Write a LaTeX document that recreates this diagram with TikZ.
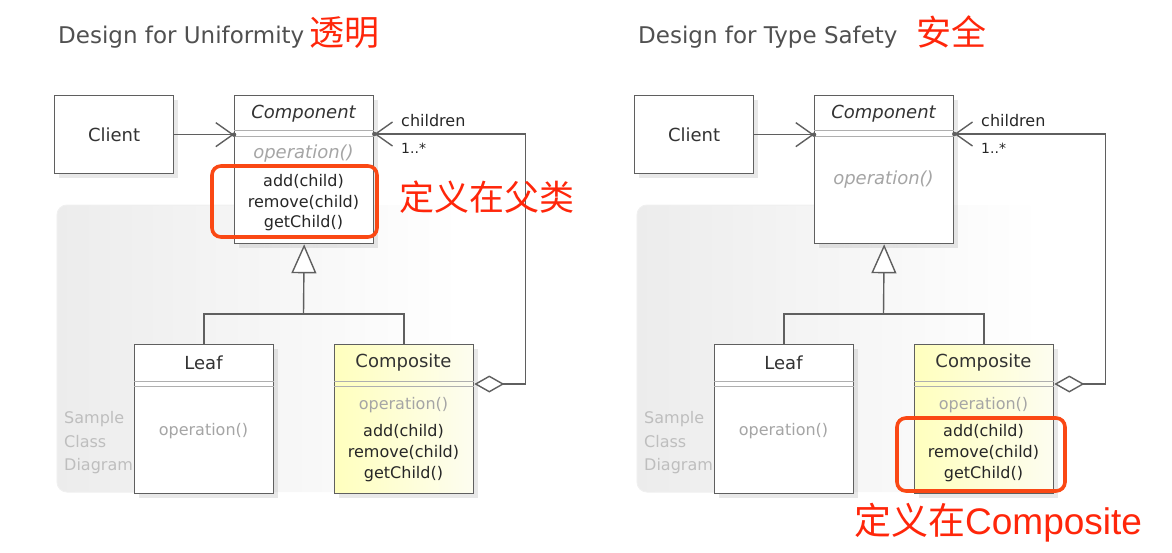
\documentclass[tikz,border=0pt]{standalone}
\usepackage{fontspec}
\usetikzlibrary{arrows.meta,shadows,fadings}
\newfontfamily\umlf{DejaVu Sans}
\newfontfamily\cjkf{Noto Sans CJK SC}
\newfontfamily\latf{Liberation Sans}
\definecolor{boxred}{RGB}{250,72,20}
\definecolor{txtred}{RGB}{255,38,10}
\definecolor{linegray}{RGB}{95,95,95}
\definecolor{sepgray}{RGB}{175,175,175}
\definecolor{opgray}{RGB}{165,165,165}
\definecolor{ttlgray}{RGB}{80,80,80}
\definecolor{smpgray}{RGB}{190,190,190}
\definecolor{yelA}{RGB}{255,255,190}
\definecolor{yelB}{RGB}{253,253,240}
\definecolor{frameA}{RGB}{236,236,236}
\begin{document}
\begin{tikzpicture}[x=1pt,y=-1pt,
  classbox/.style={draw=linegray,line width=1.3pt,fill=white,anchor=north west,inner sep=0pt,
    drop shadow={shadow xshift=4pt,shadow yshift=-4pt,opacity=0.09,fill=black}},
  compbox/.style={classbox,left color=yelA,right color=yelB},
  cname/.style={font=\umlf\fontsize{18}{20}\selectfont,text=black!80,inner sep=0pt},
  cnamei/.style={font=\umlf\itshape\fontsize{18}{20}\selectfont,text=black!80,inner sep=0pt},
  meth/.style={font=\umlf\fontsize{16}{18}\selectfont,text=black!85,inner sep=0pt},
  opm/.style={font=\umlf\fontsize{16}{18}\selectfont,text=opgray,inner sep=0pt},
  opi/.style={font=\umlf\itshape\fontsize{18}{20}\selectfont,text=opgray,inner sep=0pt},
  lbl/.style={font=\umlf\fontsize{16}{18}\selectfont,text=black!85,inner sep=0pt,anchor=west},
  mult/.style={font=\umlf\fontsize{14}{16}\selectfont,text=black!85,inner sep=0pt,anchor=west},
  ttl/.style={font=\umlf\fontsize{23}{26}\selectfont,text=ttlgray,inner sep=0pt,anchor=base west},
  cjkttl/.style={font=\cjkf\fontsize{35}{38}\selectfont,text=txtred,inner sep=0pt,anchor=base west},
  note/.style={font=\cjkf\fontsize{35}{38}\selectfont,text=txtred,inner sep=0pt,anchor=west},
  smp/.style={font=\umlf\fontsize{16}{18}\selectfont,text=smpgray,inner sep=0pt,anchor=west,align=left},
  sep/.style={draw=sepgray,line width=0.9pt},
  redbox/.style={draw=boxred,line width=3.6pt,rounded corners=9pt},
  conn/.style={draw=linegray,line width=1.4pt},
  assoc/.style={conn,-{Straight Barb[length=17pt,width=24pt,line width=1.4pt]}},
  aggr/.style={conn,{Diamond[fill=white,length=30pt,width=17pt,line width=1.4pt]}-{Straight Barb[length=17pt,width=24pt,line width=1.4pt]}},
  inh/.style={conn,-{Triangle[fill=white,length=29pt,width=25pt,line width=1.4pt]}},
  tipdot/.style={circle,fill=linegray,inner sep=0pt,minimum size=4.5pt},
  frame/.style={fill=frameA,path fading=east,rounded corners=10pt},
  frameline/.style={draw=black!6,line width=1pt,rounded corners=10pt}
]
\useasboundingbox (0,0) rectangle (1172,552);

% ================= LEFT: Design for Uniformity =================
\fill[frame] (57,205) rectangle (460,492);
\draw[frameline] (240,205) -- (57,205) -- (57,492) -- (140,492);
\node[smp] (Lsmp) at (64,443) {Sample\\[5.5pt]Class\\[5.5pt]Diagram};

\node[ttl] (Lttl) at (58,43) {Design for Uniformity};
\node[cjkttl] (Lttlc) at (309,45) {透明};

\node[classbox,minimum width=119pt,minimum height=78pt] (Lclient) at (54,95) {};
\node[cname] (Lclientt) at (Lclient.center) {Client};

\node[classbox,minimum width=139pt,minimum height=148pt] (Lcomp) at (234,95) {};
\node[cnamei] (Lcompt) at (303.5,114) {Component};
\draw[sep] ([yshift=-35.7pt]Lcomp.north west) -- ([yshift=-35.7pt]Lcomp.north east);
\draw[sep] ([yshift=-41.7pt]Lcomp.north west) -- ([yshift=-41.7pt]Lcomp.north east);
\node[opi] (Lcompop) at (303.5,154) {operation()};
\node[meth] (Lcompm1) at (303.5,181) {add(child)};
\node[meth] (Lcompm2) at (303.5,202) {remove(child)};
\node[meth] (Lcompm3) at (303.5,223) {getChild()};

\node[classbox,minimum width=139pt,minimum height=149pt] (Lleaf) at (134,344) {};
\node[cname] (Lleaft) at (203.5,363) {Leaf};
\draw[sep] ([yshift=-37.7pt]Lleaf.north west) -- ([yshift=-37.7pt]Lleaf.north east);
\draw[sep] ([yshift=-42.7pt]Lleaf.north west) -- ([yshift=-42.7pt]Lleaf.north east);
\node[opm] (Lleafop) at (203.5,431) {operation()};

\node[compbox,minimum width=139pt,minimum height=149pt] (Lcompo) at (334,344) {};
\node[cname] (Lcompot) at (403.5,363) {Composite};
\draw[sep] ([yshift=-37.7pt]Lcompo.north west) -- ([yshift=-37.7pt]Lcompo.north east);
\draw[sep] ([yshift=-42.7pt]Lcompo.north west) -- ([yshift=-42.7pt]Lcompo.north east);
\node[opm] (Lcompoop) at (403.5,405) {operation()};
\node[meth] (Lcompom1) at (403.5,431) {add(child)};
\node[meth] (Lcompom2) at (403.5,452.5) {remove(child)};
\node[meth] (Lcompom3) at (403.5,474) {getChild()};

% connectors
\coordinate (Lctip) at (Lclient.east -| Lcomp.west);
\draw[assoc] (Lclient.east) -- (Lctip);
\node[tipdot] (Lctipd) at (Lctip) {};

\coordinate (Lagg) at ([yshift=-40pt]Lcompo.north east);
\coordinate (Lchild) at ([yshift=-39pt]Lcomp.north east);
\draw[aggr] (Lagg) -- ++(51,0) |- (Lchild);
\node[tipdot] (Lchildd) at (Lchild) {};
\node[lbl] (Lchl) at (401,121) {children};
\node[mult] (Lmul) at (401,148) {1..*};

\coordinate (Ljoin) at (303.5,314);
\draw[conn] (Lleaf.north) |- (Ljoin) -| (Lcompo.north);
\draw[inh] (Ljoin) -- (Lcomp.south);

\draw[redbox] (212,166) rectangle (377,237);
\node[note] (Lnote) at (399,197) {定义在父类};

% ================= RIGHT: Design for Type Safety =================
\fill[frame] (637,205) rectangle (1040,492);
\draw[frameline] (820,205) -- (637,205) -- (637,492) -- (720,492);
\node[smp] (Rsmp) at (644,443) {Sample\\[5.5pt]Class\\[5.5pt]Diagram};

\node[ttl] (Rttl) at (638,43) {Design for Type Safety};
\node[cjkttl] (Rttlc) at (916,45) {安全};

\node[classbox,minimum width=119pt,minimum height=78pt] (Rclient) at (634,95) {};
\node[cname] (Rclientt) at (Rclient.center) {Client};

\node[classbox,minimum width=139pt,minimum height=148pt] (Rcomp) at (814,95) {};
\node[cnamei] (Rcompt) at (883.5,114) {Component};
\draw[sep] ([yshift=-35.7pt]Rcomp.north west) -- ([yshift=-35.7pt]Rcomp.north east);
\draw[sep] ([yshift=-41.7pt]Rcomp.north west) -- ([yshift=-41.7pt]Rcomp.north east);
\node[opi] (Rcompop) at (883.5,180) {operation()};

\node[classbox,minimum width=139pt,minimum height=149pt] (Rleaf) at (714,344) {};
\node[cname] (Rleaft) at (783.5,363) {Leaf};
\draw[sep] ([yshift=-37.7pt]Rleaf.north west) -- ([yshift=-37.7pt]Rleaf.north east);
\draw[sep] ([yshift=-42.7pt]Rleaf.north west) -- ([yshift=-42.7pt]Rleaf.north east);
\node[opm] (Rleafop) at (783.5,431) {operation()};

\node[compbox,minimum width=139pt,minimum height=149pt] (Rcompo) at (914,344) {};
\node[cname] (Rcompot) at (983.5,363) {Composite};
\draw[sep] ([yshift=-37.7pt]Rcompo.north west) -- ([yshift=-37.7pt]Rcompo.north east);
\draw[sep] ([yshift=-42.7pt]Rcompo.north west) -- ([yshift=-42.7pt]Rcompo.north east);
\node[opm] (Rcompoop) at (983.5,405) {operation()};
\node[meth] (Rcompom1) at (983.5,431) {add(child)};
\node[meth] (Rcompom2) at (983.5,452.5) {remove(child)};
\node[meth] (Rcompom3) at (983.5,474) {getChild()};

\coordinate (Rctip) at (Rclient.east -| Rcomp.west);
\draw[assoc] (Rclient.east) -- (Rctip);
\node[tipdot] (Rctipd) at (Rctip) {};

\coordinate (Ragg) at ([yshift=-40pt]Rcompo.north east);
\coordinate (Rchild) at ([yshift=-39pt]Rcomp.north east);
\draw[aggr] (Ragg) -- ++(51,0) |- (Rchild);
\node[tipdot] (Rchildd) at (Rchild) {};
\node[lbl] (Rchl) at (981,121) {children};
\node[mult] (Rmul) at (981,148) {1..*};

\coordinate (Rjoin) at (883.5,314);
\draw[conn] (Rleaf.north) |- (Rjoin) -| (Rcompo.north);
\draw[inh] (Rjoin) -- (Rcomp.south);

\draw[redbox] (897,418) rectangle (1065,491);
\node[note,font=\cjkf\fontsize{37}{40}\selectfont] (Rnote) at (854,523) {定义在{\latf Composite}};
\end{tikzpicture}
\end{document}
